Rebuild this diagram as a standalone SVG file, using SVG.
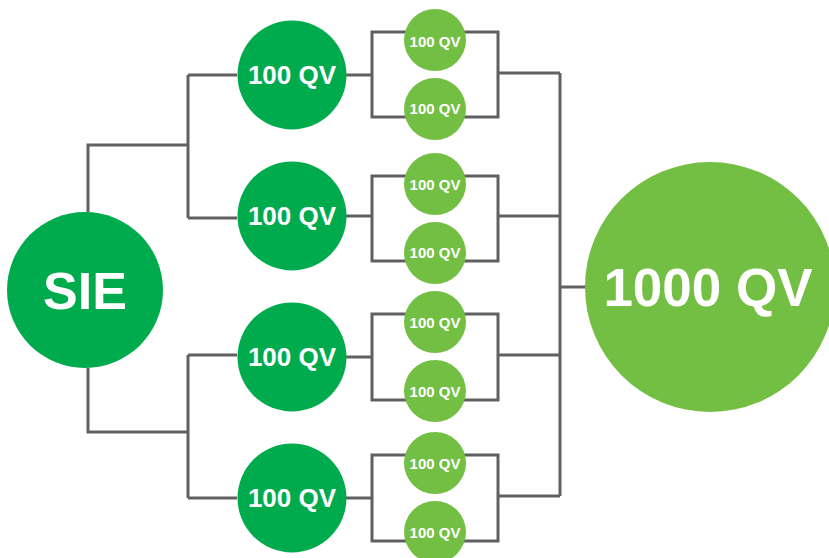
<svg xmlns="http://www.w3.org/2000/svg" width="829" height="558" viewBox="0 0 829 558">
<style>
.c{fill:none;stroke:#606060;stroke-width:3}
.d{fill:#00AB4E}
.l{fill:#72BF44}
text{font-family:"Liberation Sans",Arial,sans-serif;font-weight:bold;fill:#fff;text-anchor:middle}
.t1{font-size:52px}
.t2{font-size:26px}
.t3{font-size:15px}
.t4{font-size:53px}
</style>
<rect width="829" height="558" fill="#fff"/>
<g id="connectors" class="c">
<path d="M88,212 V145 H188"/>
<path d="M188,75 V218"/>
<path d="M188,75 H237 M188,218 H237"/>
<path d="M88,368 V432 H188"/>
<path d="M188,355 V498"/>
<path d="M188,355 H237 M188,498 H237"/>
<path d="M346,75 H372 M346,216 H372 M346,357 H372 M346,498 H372"/>
<rect x="372" y="32" width="126" height="85"/>
<rect x="372" y="176" width="126" height="85"/>
<rect x="372" y="314" width="126" height="86"/>
<rect x="372" y="455" width="126" height="86"/>
<path d="M498,73 H560 M498,216 H560 M498,355 H560 M498,496 H560"/>
<path d="M560,73 V496"/>
<path d="M560,287 H590"/>
</g>
<g id="sie"><circle class="d" cx="85" cy="290" r="78"/><text class="t1" x="85" y="309">SIE</text></g>
<g id="n1"><circle class="d" cx="292" cy="75" r="54.5"/><text class="t2" x="292" y="84">100 QV</text></g>
<g id="n2"><circle class="d" cx="292" cy="216" r="54.5"/><text class="t2" x="292" y="225">100 QV</text></g>
<g id="n3"><circle class="d" cx="292" cy="357" r="54.5"/><text class="t2" x="292" y="366">100 QV</text></g>
<g id="n4"><circle class="d" cx="292" cy="498" r="54.5"/><text class="t2" x="292" y="507">100 QV</text></g>
<g id="s1a"><circle class="l" cx="435" cy="40" r="31"/><text class="t3" x="435" y="47">100 QV</text></g>
<g id="s1b"><circle class="l" cx="435" cy="109" r="31"/><text class="t3" x="435" y="114">100 QV</text></g>
<g id="s2a"><circle class="l" cx="435" cy="184" r="31"/><text class="t3" x="435" y="190">100 QV</text></g>
<g id="s2b"><circle class="l" cx="435" cy="253" r="31"/><text class="t3" x="435" y="258">100 QV</text></g>
<g id="s3a"><circle class="l" cx="435" cy="322" r="31"/><text class="t3" x="435" y="328">100 QV</text></g>
<g id="s3b"><circle class="l" cx="435" cy="391" r="31"/><text class="t3" x="435" y="397">100 QV</text></g>
<g id="s4a"><circle class="l" cx="435" cy="463" r="31"/><text class="t3" x="435" y="469">100 QV</text></g>
<g id="s4b"><circle class="l" cx="435" cy="532" r="31"/><text class="t3" x="435" y="538">100 QV</text></g>
<g id="big"><circle class="l" cx="710" cy="287" r="125"/><text class="t4" x="708" y="306">1000 QV</text></g>
</svg>
